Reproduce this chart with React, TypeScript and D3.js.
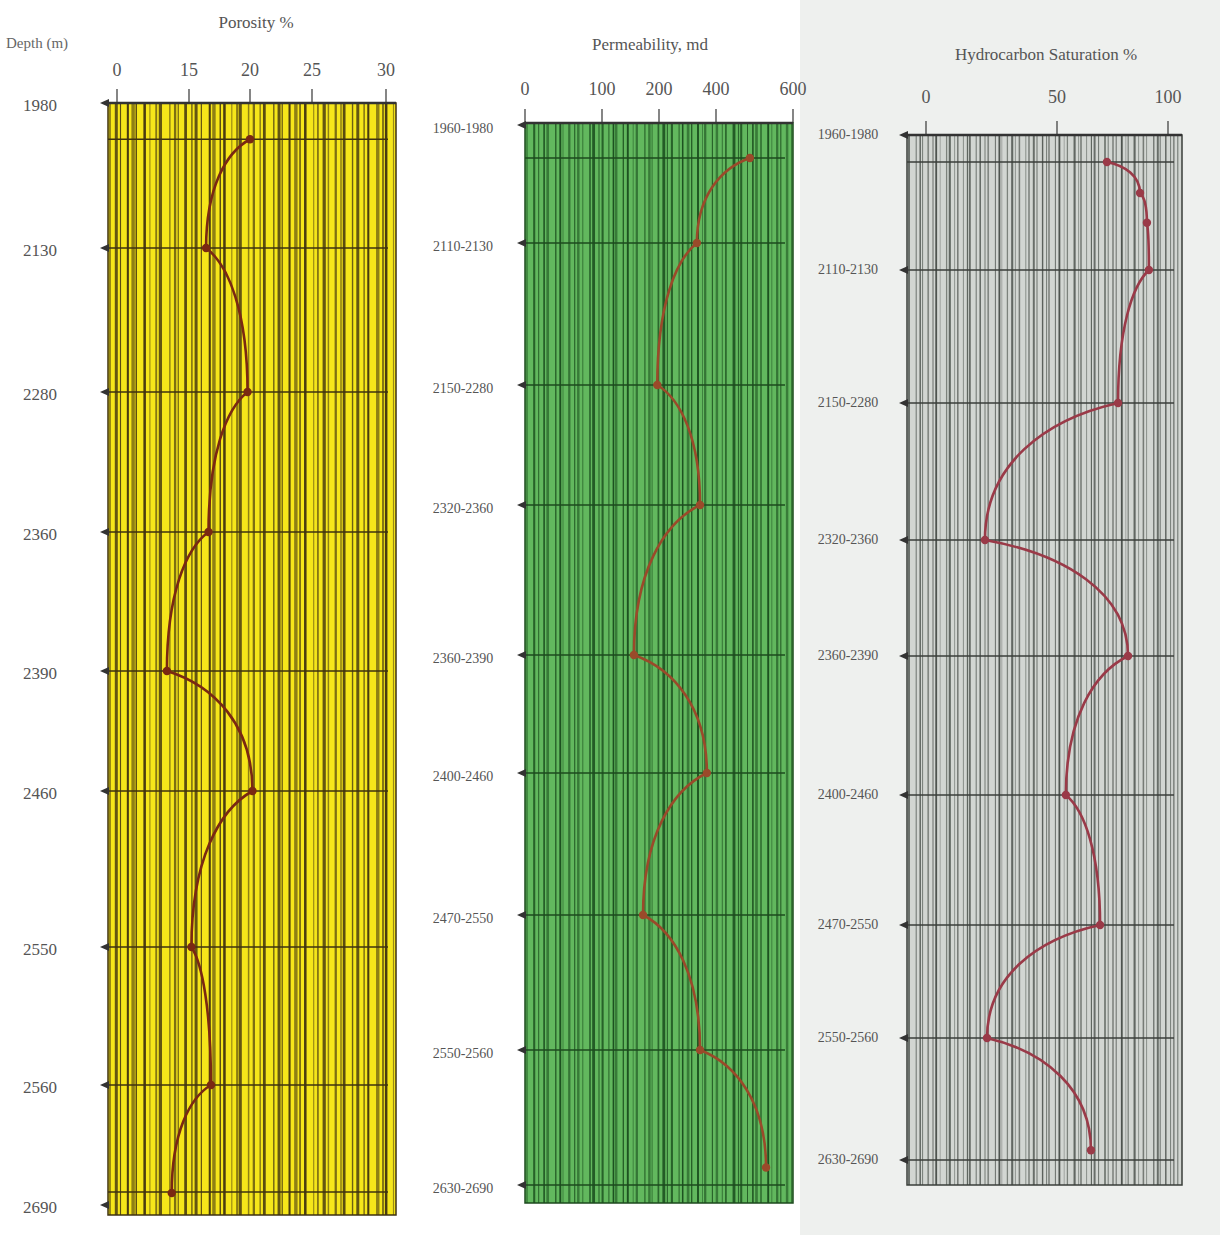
import * as d3 from 'd3';

// axis ticks, as printed on the three tracks
const porosityTicks = [0, 15, 20, 25, 30];
const permeabilityTicks = [0, 100, 200, 400, 600];
const saturationTicks = [0, 50, 100];

// depth labels
const depthTops = ['1980', '2130', '2280', '2360', '2390', '2460', '2550', '2560', '2690'];
const depthIntervals = ['1960-1980', '2110-2130', '2150-2280', '2320-2360', '2360-2390', '2400-2460', '2470-2550', '2550-2560', '2630-2690'];

// series: depth row index (0 = first label) and value
const porosityRow = [0.25, 1, 2, 3, 4, 5, 6, 7, 7.9];
const porosity = [20, 16.4, 19.8, 16.6, 10.4, 20.2, 15.2, 16.8, 11.4];

const permeabilityRow = [0.28, 1, 2, 3, 4, 5, 6, 7, 7.87];
const permeability = [488, 333, 197, 344, 156, 368, 172, 344, 530];

const saturationRow = [0.2, 0.43, 0.65, 1, 2, 3, 4, 5, 6, 7, 7.92];
const saturation = [72.5, 87.4, 90.5, 91.4, 77.5, 22.5, 82, 54, 69.4, 23.3, 65.3];

const W = 1220;
const H = 1235;
const serif = '"Liberation Serif", "DejaVu Serif", serif';

// stripe look of the printed paper: gaps and widths cycle irregularly
const stripeGap = [6, 4, 7, 5, 3, 8, 5, 6, 4, 9, 5, 3, 7, 6, 4, 5, 8, 4];
const stripeW = [1.2, 2.6, 1, 1.8, 3, 1.2, 2.2, 1, 1.6, 2.8, 1.3, 2, 1, 2.4];
const stripeO = [0.8, 0.95, 0.6, 0.85, 1, 0.7, 0.9, 0.55, 0.8, 1, 0.65, 0.9, 0.6, 0.85];

// each segment bows out horizontally first, then drops vertically into the next point
const curveBow = (context: any) => {
  let px = 0, py = 0, n = 0;
  return {
    areaStart() {},
    areaEnd() {},
    lineStart() { n = 0; },
    lineEnd() {},
    point(x: number, y: number) {
      if (n === 0) context.moveTo(x, y);
      else {
        const dx = x - px, dy = y - py;
        context.bezierCurveTo(px + dx * 0.55, py + dy * 0.12, x, py + dy * 0.45, x, y);
      }
      px = x; py = y; n++;
    },
  };
};

function Track({ cfg }: { cfg: any }) {
  const x = d3.scaleLinear().domain(cfg.ticks).range(cfg.tickRange);
  const y = d3.scaleLinear().domain(d3.range(cfg.rowY.length)).range(cfg.rowY);
  const [fx0, fx1] = cfg.fillX;
  const [fy0, fy1] = cfg.fillY;

  const stripes: number[] = [];
  let sx = fx0 + 2;
  let k = cfg.phase;
  while (sx < fx1 - 1) {
    stripes.push(sx);
    sx += stripeGap[k % stripeGap.length] * cfg.gapScale;
    k++;
  }

  const pts = cfg.values.map((v: number, i: number) => [x(v), y(cfg.rows[i])]);
  const line = d3.line().curve(curveBow as any);
  const hLines = [...cfg.rowY.slice(1, -1), y(cfg.rows[0]), cfg.bottomLine];

  return (
    <g>
      <text x={cfg.titleX} y={cfg.titleY} textAnchor="middle" fontFamily={serif} fontSize={17} fill="#555">
        {cfg.title}
      </text>
      {cfg.ticks.map((t: number) => (
        <g key={t}>
          <text x={x(t)} y={cfg.tickY} textAnchor="middle" fontFamily={serif} fontSize={18} fill="#555">
            {t}
          </text>
          <line x1={x(t)} x2={x(t)} y1={fy0 - 14} y2={fy0} stroke="#444" strokeWidth={1.3} />
        </g>
      ))}
      <rect x={fx0} y={fy0} width={fx1 - fx0} height={fy1 - fy0} fill={cfg.fill} />
      {stripes.map((s: number, i: number) => (
        <line
          key={i}
          x1={s}
          x2={s}
          y1={fy0}
          y2={fy1}
          stroke={cfg.stripe}
          strokeWidth={stripeW[(i + cfg.phase) % stripeW.length] * cfg.widthScale}
          strokeOpacity={stripeO[(i * 3) % stripeO.length]}
        />
      ))}
      {hLines.map((hy: number, i: number) => (
        <line key={'h' + i} x1={fx0} x2={fx1 - 8} y1={hy} y2={hy} stroke={cfg.grid} strokeWidth={1.6} />
      ))}
      <rect x={fx0} y={fy0} width={fx1 - fx0} height={fy1 - fy0} fill="none" stroke={cfg.grid} strokeWidth={1.5} />
      <line x1={fx0} x2={fx1} y1={fy0} y2={fy0} stroke="#333" strokeWidth={2.5} />
      {cfg.rowY.map((ry: number, i: number) => (
        <g key={'m' + i}>
          <path d={`M${fx0 - 8},${ry} L${fx0 + 1},${ry - 4} L${fx0 + 1},${ry + 4} Z`} fill="#333" />
          <text
            x={cfg.labelX}
            y={ry + cfg.labelDy}
            textAnchor="middle"
            dominantBaseline="middle"
            fontFamily={serif}
            fontSize={cfg.labelSize}
            fill="#555"
          >
            {cfg.labels[i]}
          </text>
        </g>
      ))}
      <path d={line(pts as any) || ''} fill="none" stroke={cfg.lineColor} strokeWidth={2.6} />
      {pts.map((p: number[], i: number) => (
        <circle key={'p' + i} cx={p[0]} cy={p[1]} r={4.2} fill={cfg.lineColor} />
      ))}
    </g>
  );
}

export default function App() {
  const tracks = [
    {
      title: 'Porosity %', titleX: 256, titleY: 28, tickY: 76,
      ticks: porosityTicks, tickRange: [117, 189, 250, 312, 386],
      fillX: [108, 396], fillY: [103, 1215], bottomLine: 1192,
      rowY: [103, 248, 392, 532, 671, 791, 947, 1085, 1205],
      labels: depthTops, labelX: 40, labelDy: 4, labelSize: 17,
      rows: porosityRow, values: porosity,
      fill: '#f6e61a', stripe: '#4a3c10', grid: '#3e3210', lineColor: '#7a2812',
      gapScale: 1.05, widthScale: 1.15, phase: 0,
    },
    {
      title: 'Permeability, md', titleX: 650, titleY: 50, tickY: 95,
      ticks: permeabilityTicks, tickRange: [525, 602, 659, 716, 793],
      fillX: [525, 793], fillY: [123, 1203], bottomLine: 1185,
      rowY: [125, 243, 385, 505, 655, 773, 915, 1050, 1185],
      labels: depthIntervals, labelX: 463, labelDy: 5, labelSize: 14,
      rows: permeabilityRow, values: permeability,
      fill: '#62b85e', stripe: '#1d5220', grid: '#1c4a1e', lineColor: '#9a4a2a',
      gapScale: 0.9, widthScale: 0.95, phase: 5,
    },
    {
      title: 'Hydrocarbon Saturation %', titleX: 1046, titleY: 60, tickY: 103,
      ticks: saturationTicks, tickRange: [926, 1057, 1168],
      fillX: [907, 1182], fillY: [135, 1185], bottomLine: 1160,
      rowY: [135, 270, 403, 540, 656, 795, 925, 1038, 1160],
      labels: depthIntervals, labelX: 848, labelDy: 1, labelSize: 14,
      rows: saturationRow, values: saturation,
      fill: '#d2d6d2', stripe: '#4e544f', grid: '#3a3e3a', lineColor: '#9a3a48',
      gapScale: 0.8, widthScale: 0.7, phase: 9,
    },
  ];

  return (
    <svg
      width={W}
      height={H}
      viewBox={`0 0 ${W} ${H}`}
      style={{ position: 'absolute', left: 0, top: 0, background: '#ffffff' }}
    >
      <rect x={800} y={0} width={420} height={H} fill="#eef0ee" />
      <text x={6} y={48} textAnchor="start" fontFamily={serif} fontSize={15} fill="#666">
        Depth (m)
      </text>
      {tracks.map((t, i) => (
        <Track key={i} cfg={t} />
      ))}
    </svg>
  );
}
